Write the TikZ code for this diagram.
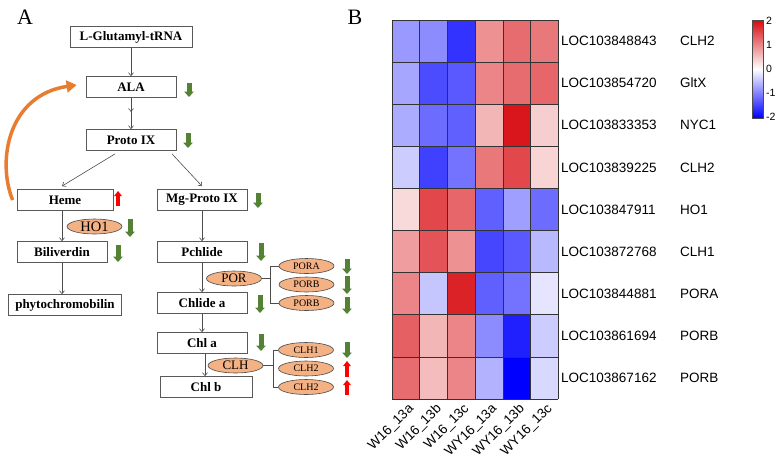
\documentclass[tikz,border=0pt]{standalone}
\usepackage{fontspec}
\setmainfont{Liberation Serif}
\setsansfont{Liberation Sans}
\usetikzlibrary{positioning,arrows.meta,calc,shapes.geometric,decorations.markings}

\definecolor{dngreen}{RGB}{84,130,53}
\definecolor{upred}{RGB}{255,0,0}
\definecolor{enzfill}{RGB}{244,177,131}
\definecolor{fbkorange}{RGB}{232,125,50}
\definecolor{hmred}{RGB}{215,10,15}
\definecolor{hmblue}{RGB}{0,0,255}

\begin{document}
\begin{tikzpicture}[x=1pt, y=-1pt,
  font=\fontsize{13}{15}\selectfont,
  >={Straight Barb[length=3pt,width=5pt]},
  metab/.style={draw=black!65, line width=0.8pt, font=\fontsize{13}{15}\selectfont\bfseries,
                minimum height=21pt, minimum width=90pt, inner sep=2pt},
  enz/.style={ellipse, draw=black!70, line width=0.6pt, fill=enzfill,
              minimum width=55pt, minimum height=15pt, inner sep=0pt},
  subenz/.style={enz, font=\fontsize{10}{12}\selectfont},
  conv/.style={->, draw=black!70, line width=0.6pt},
  midtip/.style={decoration={markings, mark=at position 0.45 with {\arrow{>}}}, postaction={decorate}},
  brace/.style={draw=black!70, line width=0.6pt},
  dnmark/.style={draw=dngreen, line width=5pt, -{Triangle[width=9.5pt,length=5.5pt]}},
  upmark/.style={draw=upred, line width=3.5pt, -{Triangle[width=7.5pt,length=5pt]}},
  feedback/.style={draw=fbkorange, line width=3.5pt, -{Triangle[width=12pt,length=10pt]}},
  hmlab/.style={font=\sffamily\fontsize{13.5}{15}\selectfont, inner sep=0pt},
  hmgrid/.style={draw=black!80, line width=0.6pt}
]
\useasboundingbox (0,0) rectangle (778,459);

% Panel labels
\node[font=\fontsize{22}{24}\selectfont] (lblA) at (25,17) {A};
\node[font=\fontsize{22}{24}\selectfont] (lblB) at (355,17) {B};

% Pathway
\node[metab, minimum width=122pt] (glu) at (131,37) {L-Glutamyl-tRNA};
\node[metab] (ala) at (131,87) {ALA};
\node[metab] (proto) at (131,140) {Proto IX};
\node[metab, minimum width=96pt] (heme) at (65,200) {Heme};
\node[metab] (mgproto) at (202,200) {Mg-Proto IX};
\node[metab] (bili) at (62,252) {Biliverdin};
\node[metab, minimum width=113pt] (phyto) at (65,305) {phytochromobilin};
\node[metab] (pchl) at (202,252) {Pchlide};
\node[metab] (chlide) at (202,303) {Chlide a};
\node[metab] (chla) at (202,343) {Chl a};
\node[metab, minimum width=92pt] (chlb) at (206,387) {Chl b};

% Enzymes
\node[enz, font=\fontsize{14.5}{16}\selectfont] (ho1) at (94.5,226.5) {HO1};
\node[enz] (por) at (234,278.5) {POR};
\node[enz] (clh) at (235.5,365.5) {CLH};
\node[subenz] (pora) at (306.5,266) {PORA};
\node[subenz] (porb) at (306.5,284.5) {PORB};
\node[subenz] (porbb) at (306.5,303) {PORB};
\node[subenz] (clhi) at (306,350) {CLH1};
\node[subenz] (clhii) at (306,368.5) {CLH2};
\node[subenz] (clhiii) at (306,387) {CLH2};

% Flows
\draw[conv] (glu) -- (ala);
\draw[conv, midtip] (ala) -- (proto);
\draw[conv] ([xshift=-16pt,yshift=-3pt]proto.south) -- ([xshift=-3pt,yshift=3pt]heme.north);
\draw[conv] ([xshift=41pt,yshift=-3pt]proto.south) -- ([yshift=3pt]mgproto.north);
\draw[conv] (heme.south -| bili.north) -- (bili.north);
\draw[conv] (bili.south) -- (bili.south |- phyto.north);
\draw[conv] (mgproto) -- (pchl);
\draw[conv] (pchl) -- (chlide);
\draw[conv] (chlide) -- (chla);
\draw[conv] ([xshift=3pt]chla.south) -- ([xshift=3pt]chla.south |- chlb.north);

\draw[feedback] ([xshift=-4pt]heme.west) .. controls +(-16,-40) and +(-68,10) .. ([xshift=-9pt,yshift=2pt]ala.west);

% Brackets
\coordinate (porbr) at ([xshift=-8pt]pora.west);
\draw[brace] (pora.west) -- (porbr) |- (porbb.west);
\draw[brace] (por.east) -- (por.east -| porbr);
\coordinate (clhbr) at ([xshift=-5pt]clhi.west);
\draw[brace] (clhi.west) -- (clhbr) |- (clhiii.west);
\draw[brace] (clh.east) -- (clh.east -| clhbr);

% Regulation marks
\foreach \x/\ya/\yb in {189/83/97, 188/133/148, 258/193/208, 130/219/237, 118/245/262,
    261/243/261, 260/295/313, 261/334/351, 347/259/274, 347/276/294, 347/297/314, 347/342/358}
  \draw[dnmark] (\x,\ya) -- (\x,\yb);
\foreach \x/\ya/\yb in {118/206/191, 347/377/361, 347/395/380}
  \draw[upmark] (\x,\ya) -- (\x,\yb);

% Heatmap
\def\hmx{392}
\def\hmy{20}
\def\cw{27.7}
\def\rh{42.1}
\foreach \row [count=\r] in {
  {-0.8,-0.9,-1.6,0.9,1.2,1.1},
  {-0.7,-1.4,-1.3,1.0,1.2,1.25},
  {-0.65,-1.15,-1.25,0.6,1.9,0.4},
  {-0.4,-1.5,-1.1,1.1,1.5,0.35},
  {0.3,1.5,1.25,-1.25,-0.75,-1.15},
  {0.8,1.4,0.9,-1.45,-1.3,-0.55},
  {1.0,-0.45,1.8,-1.25,-1.1,-0.2},
  {1.3,0.6,1.0,-0.9,-1.75,-0.4},
  {1.2,0.55,1.0,-0.6,-2,-0.3}}{
  \foreach \v [count=\c] in \row {
    \pgfmathsetmacro\p{abs(\v)*50}
    \ifdim \v pt>0pt \def\hue{hmred}\else\def\hue{hmblue}\fi
    \fill[\hue!\p!white] ({\hmx+(\c-1)*\cw},{\hmy+(\r-1)*\rh}) rectangle ({\hmx+\c*\cw},{\hmy+\r*\rh});
  }
}
\foreach \c in {0,...,6}
  \draw[hmgrid] ({\hmx+\c*\cw},\hmy) -- ({\hmx+\c*\cw},{\hmy+9*\rh});
\foreach \r in {0,...,9}
  \draw[hmgrid] (\hmx,{\hmy+\r*\rh}) -- ({\hmx+6*\cw},{\hmy+\r*\rh});

\foreach \loc/\gene [count=\r] in {LOC103848843/CLH2, LOC103854720/GltX, LOC103833353/NYC1,
    LOC103839225/CLH2, LOC103847911/HO1, LOC103872768/CLH1, LOC103844881/PORA,
    LOC103861694/PORB, LOC103867162/PORB}{
  \node[hmlab, anchor=west] (loc\r) at (561,{\hmy+(\r-0.5)*\rh}) {\loc};
  \node[hmlab, anchor=west] (gene\r) at (680,{\hmy+(\r-0.5)*\rh}) {\gene};
}
\foreach \lab [count=\c] in {W16\_13a, W16\_13b, W16\_13c, WY16\_13a, WY16\_13b, WY16\_13c}
  \node[hmlab, rotate=45, anchor=east] (col\c) at ({\hmx+(\c-0.5)*\cw+6},407) {\lab};

% Colour key
\shade[top color=hmred, bottom color=hmblue, middle color=white] (752,20) rectangle (763,118);
\draw[black!70, line width=0.5pt] (752,20) rectangle (763,118);
\foreach \t/\y in {2/21, 1/45, 0/69, -1/93, -2/117}
  \node[font=\sffamily\fontsize{10.5}{12}\selectfont, anchor=west, inner sep=0pt] (key\t) at (766,\y) {\t};
\end{tikzpicture}
\end{document}
